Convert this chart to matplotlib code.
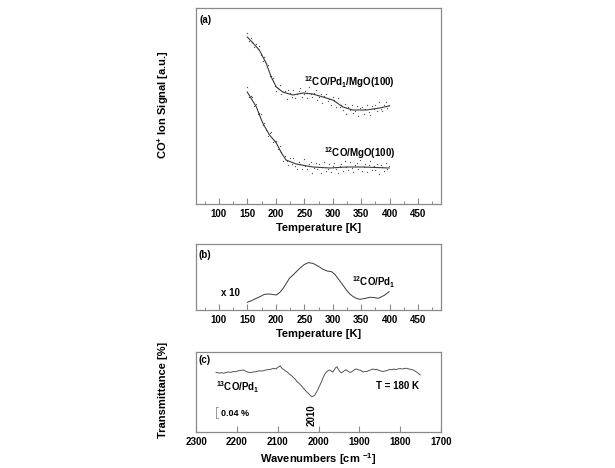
import matplotlib
matplotlib.use("Agg")
import matplotlib.pyplot as plt
from matplotlib.ticker import MultipleLocator

plt.rcParams['font.family'] = ['Liberation Sans', 'DejaVu Sans']
plt.rcParams['font.weight'] = 'bold'
plt.rcParams['mathtext.fontset'] = 'custom'
plt.rcParams['mathtext.rm'] = 'Liberation Sans:bold'
plt.rcParams['mathtext.bf'] = 'Liberation Sans:bold'
plt.rcParams['mathtext.default'] = 'rm'

# ---------------- data ----------------
# (a) smooth TPD curves
pd_T = [150, 160, 171, 183, 192, 201, 212, 230, 248, 265, 283, 300, 318, 335, 359, 382, 399]
pd_sig = [167, 161, 154, 141, 127, 117, 112, 109, 111, 110, 107, 104, 97, 94, 94, 96, 98]
mgo_T = [150, 166, 177, 189, 201, 210, 218, 236, 265, 295, 324, 353, 399]
mgo_sig = [112, 97, 81, 69, 61, 51, 44, 40, 37, 36, 37, 37, 36]

# (a) measured points
pts_T = [150, 153, 156, 159, 162, 165, 168, 171, 174, 177, 180, 183, 186, 189, 192, 195, 198, 201,
         204, 207, 210, 213, 216, 219, 222, 225, 228, 231, 234, 237, 240, 243, 246, 249, 252, 255,
         258, 261, 264, 267, 270, 273, 276, 279, 282, 285, 288, 291, 294, 297, 300, 303, 306, 309,
         312, 315, 318, 321, 324, 327, 330, 333, 336, 339, 342, 345, 348, 351, 354, 357, 360, 363,
         366, 369, 372, 375, 378, 381, 384, 387, 390, 393, 396, 399]
pd_pts_sig = [171, 163, 166, 162.5, 157, 160, 155, 158, 149, 143, 147, 141, 139, 128, 128, 126, 118, 113,
              116, 119, 110, 112, 113.5, 105, 114.5, 111, 107.5, 114, 106.5, 110, 113, 116.5, 107, 110,
              113, 105.7, 117.5, 110.2, 107, 111.5, 114, 104.5, 107, 110.5, 101, 108.5, 110, 103.5, 105,
              99.5, 107, 104, 97.5, 106.5, 97, 99, 94, 100, 90.3, 96.8, 94.4, 99, 91, 93, 98, 88, 96,
              97, 90, 95, 99, 92.3, 89.5, 97.8, 95, 99.3, 92.6, 102, 95.3, 92.6, 99, 102.3, 95.6, 99]
mgo_pts_sig = [117, 107.5, 108, 107, 98, 100, 90, 91, 90, 79, 81, 74, 68, 71, 72, 62, 63, 63,
               55, 58, 52, 43, 48.5, 43.5, 39.5, 46, 40, 46.5, 38, 34.8, 42.5, 40.2, 35, 44.7, 38.4, 35,
               39.8, 42.5, 31.2, 36, 41, 34.8, 39.6, 31.4, 37.3, 42.2, 33.1, 35, 40, 32, 38.2, 41.4,
               34.6, 30.8, 38, 40, 33, 43, 37, 34, 42, 36, 32, 39, 41, 35, 44, 33, 37, 40, 32, 38.9,
               42.8, 33.7, 37.6, 34.5, 40.4, 30.3, 39.2, 37.1, 33, 41, 35, 38]

# (b) difference x 10
b_T = [150, 158, 166, 173, 180, 189, 201, 207, 213, 224, 233, 242, 250, 257, 265, 274, 283,
       290, 298, 304, 309, 317, 324, 330, 336, 342, 348, 356, 365, 372, 380, 390, 399]
b_sig = [7.7, 9.5, 11.7, 13.5, 15.7, 16.0, 15.0, 17.5, 21.7, 31.7, 36.5, 41.7, 45.5, 47.3, 46.7,
         44.0, 40.7, 39.0, 38.3, 35.5, 31.7, 25.5, 20.0, 16.0, 13.3, 11.5, 10.7, 11.5, 12.7, 12.5,
         11.7, 14.5, 18.3]

# (c) IR spectrum
c_w = [2251, 2246, 2242, 2238, 2233, 2228, 2221, 2215, 2209, 2203, 2197, 2190, 2184, 2180, 2176,
       2172, 2168, 2162, 2155, 2149, 2143, 2137, 2131, 2125, 2119, 2113, 2108, 2104, 2100, 2097,
       2094, 2091, 2088, 2085, 2081, 2077, 2073, 2069, 2065, 2061, 2057, 2053, 2049, 2045, 2041,
       2037, 2033, 2029, 2025, 2021, 2017, 2013, 2009, 2005, 2001, 1997, 1993, 1989, 1985, 1981,
       1977, 1973, 1969, 1965, 1961, 1958, 1955, 1952, 1948, 1944, 1940, 1936, 1932, 1928, 1923,
       1919, 1915, 1911, 1907, 1902, 1898, 1894, 1890, 1886, 1882, 1878, 1874, 1870, 1866, 1862,
       1858, 1854, 1850, 1846, 1842, 1837, 1833, 1829, 1825, 1820, 1816, 1812, 1808, 1804, 1800,
       1796, 1792, 1788, 1784, 1780, 1776, 1772, 1768, 1764, 1760, 1755, 1751]
c_val = [59.7, 59.2, 58.8, 59.5, 58.7, 59.3, 60.0, 59.6, 60.5, 60.2, 61.2, 61.6, 62.0, 61.2, 60.3,
         59.8, 59.3, 59.9, 60.2, 60.8, 61.2, 61.0, 61.8, 62.3, 62.5, 63.3, 63.5, 63.0, 64.5, 65.2,
         66.2, 64.5, 63.2, 62.5, 61.0, 60.2, 58.5, 57.3, 56.0, 54.2, 52.8, 50.5, 49.2, 47.5, 45.8,
         43.7, 42.0, 40.2, 38.7, 37.0, 35.3, 35.8, 37.0, 39.8, 43.0, 46.5, 50.0, 54.0, 57.5, 59.8,
         61.2, 62.0, 61.0, 60.0, 62.5, 64.3, 65.3, 63.0, 60.5, 59.2, 60.3, 61.5, 62.2, 60.8, 59.5,
         60.2, 61.3, 62.7, 63.0, 62.2, 61.8, 61.0, 60.0, 60.6, 60.3, 61.2, 61.8, 62.5, 63.0, 62.2,
         62.7, 62.0, 61.5, 60.8, 60.5, 61.0, 61.3, 62.0, 62.6, 62.3, 63.0, 62.5, 62.7, 63.2, 63.5,
         63.0, 63.2, 63.6, 63.7, 63.2, 62.8, 62.4, 62.0, 61.0, 60.0, 58.5, 57.0]

temp_ticks = [100, 150, 200, 250, 300, 350, 400, 450]
wn_ticks = [2300, 2200, 2100, 2000, 1900, 1800, 1700]

# ---------------- figure ----------------
fig = plt.figure(figsize=(6.15, 4.68), dpi=100)
W, H = 615, 468


def box(l, t, r, b):
    return [l / W, 1 - b / H, (r - l) / W, (b - t) / H]


axa = fig.add_axes(box(196, 8, 441, 204))
axb = fig.add_axes(box(196, 244, 441, 310))
axc = fig.add_axes(box(196, 352, 441, 432))

spine_col = '#8a8a8a'
line_col = '#3a3a3a'
for ax in (axa, axb, axc):
    for s in ax.spines.values():
        s.set_color(spine_col)
        s.set_linewidth(0.9)
    ax.set_yticks([])
    ax.tick_params(axis='x', which='both', direction='in', color=spine_col,
                   labelsize=7, pad=3.5)
    ax.tick_params(axis='x', which='major', length=4, width=0.8)
    ax.tick_params(axis='x', which='minor', length=2.5, width=0.7)

for ax in (axa, axb):
    ax.set_xlim(60, 490)
    ax.set_xticks(temp_ticks)
    ax.xaxis.set_minor_locator(MultipleLocator(25))
    ax.set_xlabel('Temperature [K]', fontsize=8, fontweight='bold', labelpad=3)

# (a)
axa.set_ylim(0, 196)
axa.plot(pd_T, pd_sig, color=line_col, lw=0.8)
axa.plot(mgo_T, mgo_sig, color=line_col, lw=0.8)
axa.scatter(pts_T, pd_pts_sig, s=0.9, color='#555555', linewidths=0)
axa.scatter(pts_T, mgo_pts_sig, s=0.9, color='#555555', linewidths=0)
axa.text(0.016, 0.965, '(a)', transform=axa.transAxes, fontsize=7, va='top', ha='left')
axa.text(250, 122, r'$^{12}$CO/Pd$_{1}$/MgO(100)', fontsize=7, va='center', ha='left')
axa.text(284, 51, r'$^{12}$CO/MgO(100)', fontsize=7, va='center', ha='left')

# (b)
axb.set_ylim(0, 66)
axb.plot(b_T, b_sig, color=line_col, lw=0.7)
axb.text(0.01, 0.84, '(b)', transform=axb.transAxes, fontsize=7, va='center', ha='left')
axb.text(104, 16.7, 'x 10', fontsize=7, va='center', ha='left')
axb.text(333, 28.3, r'$^{12}$CO/Pd$_{1}$', fontsize=7, va='center', ha='left')

# (c)
axc.set_xlim(2300, 1700)
axc.set_xticks(wn_ticks)
axc.set_ylim(0, 80)
axc.plot(c_w, c_val, color='#555555', lw=0.7)
axc.set_xlabel(r'Wavenumbers [cm $^{-1}$]', fontsize=8, fontweight='bold', labelpad=3)
axc.text(0.01, 0.96, '(c)', transform=axc.transAxes, fontsize=7, va='top', ha='left')
axc.text(2251, 45, r'$^{13}$CO/Pd$_{1}$', fontsize=7, va='center', ha='left')
axc.text(1754, 46, 'T = 180 K', fontsize=7, va='center', ha='right')
axc.text(2017, 17, '2010', fontsize=7, rotation=90, va='center', ha='center')
axc.plot([2251, 2251], [14, 25.3], color='#888888', lw=0.6)
axc.plot([2251, 2247], [14, 14], color='#888888', lw=0.6)
axc.plot([2251, 2247], [25.3, 25.3], color='#888888', lw=0.6)
axc.text(2238, 19, '0.04 %', fontsize=6.5, va='center', ha='left')

# y labels
fig.text(163 / W, 1 - 105 / H, r'CO$^{+}$ Ion Signal [a.u.]', rotation=90,
         fontsize=8, fontweight='bold', va='center', ha='center')
fig.text(163 / W, 1 - 390 / H, 'Transmittance [%]', rotation=90,
         fontsize=8, fontweight='bold', va='center', ha='center')

fig.savefig('out.png', dpi=100)
